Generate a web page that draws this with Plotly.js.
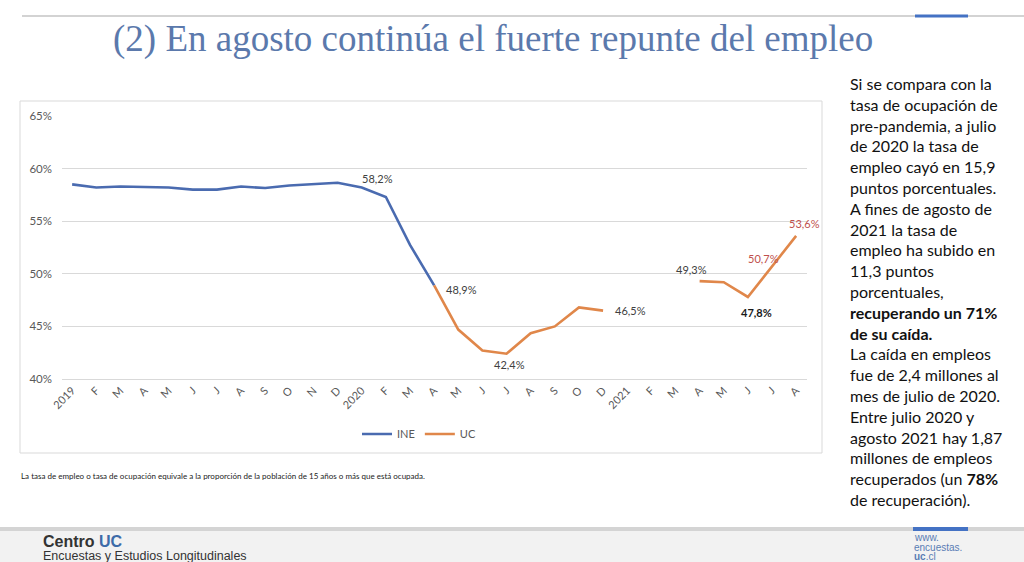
<!DOCTYPE html>
<html>
<head>
<meta charset="utf-8">
<script src="https://cdn.plot.ly/plotly-3.0.1.min.js"></script>
<style>
html,body{margin:0;padding:0;background:#fff;}
#chart{width:1024px;height:562px;}
</style>
</head>
<body>
<div id="chart"></div>
<script>
// ---- data ----
const months = ['2019','F','M','A','M','J','J','A','S','O','N','D',
                '2020','F','M','A','M','J','J','A','S','O','D',
                '2021','F','M','A','M','J','J','A'];
const ine = [58.5,58.2,58.3,58.25,58.2,58.0,58.0,58.3,58.15,58.4,58.5,58.65,
             58.2,57.3,52.75,48.9,null,null,null,null,null,null,null,
             null,null,null,null,null,null,null,null];
const uc  = [null,null,null,null,null,null,null,null,null,null,null,null,
             null,null,null,48.9,44.7,42.7,42.4,44.35,45.0,46.8,46.5,
             null,null,null,49.3,49.2,47.8,50.7,53.6];
const yTicks = [40,45,50,55,60,65];
const yTickText = ['40%','45%','50%','55%','60%','65%'];
// labelled points: [series, index, text]
const labelPts = [
  ['ine',12,'58,2%'],
  ['uc',15,'48,9%'],
  ['uc',18,'42,4%'],
  ['uc',22,'46,5%'],
  ['uc',26,'49,3%'],
  ['uc',28,'47,8%'],
  ['uc',29,'50,7%'],
  ['uc',30,'53,6%']
];

// ---- styles ----
const W = 1024, H = 562;
const px = v => v / W;
const py = v => 1 - v / H;
const labelStyle = {
  '58,2%': {dx:16, dy:9.5, color:'#404040', bold:false},
  '48,9%': {dx:27, dy:-4, color:'#404040', bold:false},
  '42,4%': {dx:3, dy:-11, color:'#404040', bold:false},
  '46,5%': {dx:27, dy:0, color:'#404040', bold:false},
  '49,3%': {dx:-8, dy:12, color:'#404040', bold:false},
  '47,8%': {dx:9, dy:-16, color:'#1a1a1a', bold:true},
  '50,7%': {dx:-9, dy:8, color:'#C0504D', bold:false},
  '53,6%': {dx:8, dy:12, color:'#C0504D', bold:false}
};

const xIdx = months.map((_, i) => i);
const series = {ine: ine, uc: uc};

const traces = [
  {x: xIdx, y: ine, name: 'INE', type: 'scatter', mode: 'lines',
   line: {color: '#4A6BB0', width: 2.6}, connectgaps: false, hoverinfo: 'skip'},
  {x: xIdx, y: uc, name: 'UC', type: 'scatter', mode: 'lines',
   line: {color: '#E0874A', width: 2.6}, connectgaps: false, hoverinfo: 'skip'}
];

const annotations = labelPts.map(([s, i, t]) => {
  const st = labelStyle[t];
  return {
    x: xIdx[i], y: series[s][i], xref: 'x', yref: 'y',
    text: st.bold ? '<b>' + t + '</b>' : t, showarrow: false,
    xshift: st.dx, yshift: st.dy, xanchor: 'center', yanchor: 'middle',
    font: {family: 'Lato, sans-serif', size: 11, color: st.color}
  };
});

const rightText =
  'Si se compara con la<br>tasa de ocupación de<br>pre-pandemia, a julio<br>' +
  'de 2020 la tasa de<br>empleo cayó en 15,9<br>puntos porcentuales.<br>' +
  'A fines de agosto de<br>2021 la tasa de<br>empleo ha subido en<br>' +
  '11,3 puntos<br>porcentuales,<br><b>recuperando un 71%</b><br><b>de su caída.</b><br>' +
  'La caída en empleos<br>fue de 2,4 millones al<br>mes de julio de 2020.<br>' +
  'Entre julio 2020 y<br>agosto 2021 hay 1,87<br>millones de empleos<br>' +
  'recuperados (un <b>78%</b><br>de recuperación).';

annotations.push(
  {xref:'paper', yref:'paper', x: px(848), y: py(71.5), xanchor:'left', yanchor:'top',
   align:'left', showarrow:false, text: rightText,
   font:{family:'Lato, sans-serif', size:16, color:'#111111'}},
  {xref:'paper', yref:'paper', x: px(19), y: py(476), xanchor:'left', yanchor:'middle',
   showarrow:false,
   text:'La tasa de empleo o tasa de ocupación equivale a la proporción de la población de 15 años o más que está ocupada.',
   font:{family:'Lato, sans-serif', size:8, color:'#222222'}},
  {xref:'paper', yref:'paper', x: px(41), y: py(541), xanchor:'left', yanchor:'middle',
   showarrow:false, text:'<b>Centro <span style="color:#3D6BA8">UC</span></b>',
   font:{family:'Liberation Sans, Arial, sans-serif', size:16, color:'#333333'}},
  {xref:'paper', yref:'paper', x: px(41), y: py(556), xanchor:'left', yanchor:'middle',
   showarrow:false, text:'Encuestas y Estudios Longitudinales',
   font:{family:'Liberation Sans, Arial, sans-serif', size:12.5, color:'#333333'}},
  {xref:'paper', yref:'paper', x: px(912), y: py(537), xanchor:'left', yanchor:'middle',
   showarrow:false, text:'www.',
   font:{family:'Liberation Sans, Arial, sans-serif', size:10, color:'#5A7DB5'}},
  {xref:'paper', yref:'paper', x: px(912), y: py(547), xanchor:'left', yanchor:'middle',
   showarrow:false, text:'encuestas.',
   font:{family:'Liberation Sans, Arial, sans-serif', size:10, color:'#5A7DB5'}},
  {xref:'paper', yref:'paper', x: px(912), y: py(556), xanchor:'left', yanchor:'middle',
   showarrow:false, text:'<b>uc</b>.cl',
   font:{family:'Liberation Sans, Arial, sans-serif', size:10, color:'#5A7DB5'}}
);

const shapes = [
  // top rule + accent
  {type:'line', xref:'paper', yref:'paper', x0:px(22), x1:1, y0:py(16), y1:py(16),
   line:{color:'#D3D3D3', width:2}},
  {type:'line', xref:'paper', yref:'paper', x0:px(915), x1:px(968), y0:py(16), y1:py(16),
   line:{color:'#4472C4', width:3}},
  // chart box
  {type:'rect', xref:'paper', yref:'paper', x0:px(20), x1:px(822), y0:py(453), y1:py(101),
   line:{color:'#D9D9D9', width:1}, fillcolor:'rgba(0,0,0,0)', layer:'below'},
  // footer band
  {type:'rect', xref:'paper', yref:'paper', x0:0, x1:1, y0:0, y1:py(528),
   line:{width:0}, fillcolor:'#F2F2F2', layer:'below'},
  {type:'rect', xref:'paper', yref:'paper', x0:0, x1:1, y0:py(531), y1:py(527),
   line:{width:0}, fillcolor:'#D4D4D4', layer:'below'},
  {type:'rect', xref:'paper', yref:'paper', x0:px(913), x1:px(968), y0:py(531), y1:py(527),
   line:{width:0}, fillcolor:'#4472C4', layer:'below'}
];

const layout = {
  width: W, height: H,
  margin: {l:0, r:0, t:0, b:0, pad:0},
  paper_bgcolor: '#ffffff', plot_bgcolor: '#ffffff',
  title: {text: '(2) En agosto continúa el fuerte repunte del empleo',
          font: {family: 'Liberation Serif, serif', size: 37, color: '#5B79AC'},
          x: px(113), xanchor: 'left', xref: 'container',
          y: py(38), yanchor: 'middle', yref: 'container'},
  showlegend: true,
  legend: {orientation: 'h', x: px(419), xanchor: 'center', y: py(434), yanchor: 'middle',
           font: {family: 'Lato, sans-serif', size: 11, color: '#595959'},
           itemwidth: 30, bgcolor: 'rgba(0,0,0,0)', traceorder: 'normal'},
  xaxis: {domain: [px(62), px(807)], range: [-0.42, 30.45],
          tickmode: 'array', tickvals: xIdx, ticktext: months, tickangle: -45,
          tickfont: {family: 'Lato, sans-serif', size: 11, color: '#595959'},
          showgrid: false, zeroline: false, showline: true, linecolor: '#D9D9D9', linewidth: 1,
          ticks: '', fixedrange: true},
  yaxis: {domain: [py(379), py(116)], range: [40, 65],
          tickmode: 'array', tickvals: yTicks, ticktext: yTickText,
          tickfont: {family: 'Lato, sans-serif', size: 11.5, color: '#595959'},
          showgrid: true, gridcolor: '#D9D9D9', gridwidth: 1, zeroline: false,
          showline: false, ticks: '', ticklabelstandoff: 9, fixedrange: true},
  annotations: annotations,
  shapes: shapes
};

Plotly.newPlot('chart', traces, layout, {displayModeBar: false, staticPlot: true});
</script>
</body>
</html>
